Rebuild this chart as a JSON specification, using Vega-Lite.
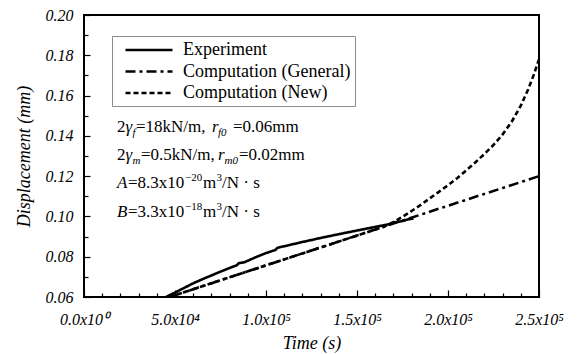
{
  "$schema": "https://vega.github.io/schema/vega-lite/v6.json",
  "width": 455,
  "height": 282,
  "autosize": {"type": "none"},
  "padding": {"left": 84, "top": 15, "right": 43, "bottom": 57},
  "background": "white",
  "config": {
    "view": {"stroke": "black", "strokeWidth": 2},
    "font": "Liberation Serif",
    "axis": {
      "grid": false,
      "domain": false,
      "tickColor": "black",
      "tickWidth": 1.2,
      "labelColor": "black",
      "titleColor": "black",
      "labelFont": "Liberation Serif",
      "titleFont": "Liberation Serif",
      "labelFontStyle": "italic",
      "titleFontStyle": "italic",
      "labelFontSize": 16,
      "titleFontSize": 18,
      "titleFontWeight": "normal",
      "labelFlush": false,
      "labelOverlap": false,
      "labelBound": false
    }
  },
  "datasets": {
    "curves": [
      {"series": "Experiment", "t": 45000, "d": 0.0600},
      {"series": "Experiment", "t": 50000, "d": 0.0622},
      {"series": "Experiment", "t": 55000, "d": 0.0645},
      {"series": "Experiment", "t": 60000, "d": 0.0668},
      {"series": "Experiment", "t": 65000, "d": 0.0688},
      {"series": "Experiment", "t": 70000, "d": 0.0707},
      {"series": "Experiment", "t": 75000, "d": 0.0726},
      {"series": "Experiment", "t": 80000, "d": 0.0744},
      {"series": "Experiment", "t": 84000, "d": 0.0758},
      {"series": "Experiment", "t": 85000, "d": 0.0768},
      {"series": "Experiment", "t": 88000, "d": 0.0772},
      {"series": "Experiment", "t": 95000, "d": 0.0800},
      {"series": "Experiment", "t": 100000, "d": 0.0818},
      {"series": "Experiment", "t": 105000, "d": 0.0833},
      {"series": "Experiment", "t": 106500, "d": 0.0845},
      {"series": "Experiment", "t": 110000, "d": 0.0852},
      {"series": "Experiment", "t": 120000, "d": 0.0873},
      {"series": "Experiment", "t": 130000, "d": 0.0893},
      {"series": "Experiment", "t": 140000, "d": 0.0912},
      {"series": "Experiment", "t": 150000, "d": 0.0930},
      {"series": "Experiment", "t": 160000, "d": 0.0948},
      {"series": "Experiment", "t": 168000, "d": 0.0962},
      {"series": "Experiment", "t": 170000, "d": 0.0970},
      {"series": "Experiment", "t": 175000, "d": 0.0977},
      {"series": "Experiment", "t": 178000, "d": 0.0985},
      {"series": "Experiment", "t": 181000, "d": 0.0990},
      {"series": "Computation (General)", "t": 47000, "d": 0.0600},
      {"series": "Computation (General)", "t": 100000, "d": 0.0757},
      {"series": "Computation (General)", "t": 150000, "d": 0.0905},
      {"series": "Computation (General)", "t": 165000, "d": 0.0950},
      {"series": "Computation (General)", "t": 200000, "d": 0.1053},
      {"series": "Computation (General)", "t": 250000, "d": 0.1200},
      {"series": "Computation (New)", "t": 47000, "d": 0.0600},
      {"series": "Computation (New)", "t": 100000, "d": 0.0757},
      {"series": "Computation (New)", "t": 150000, "d": 0.0905},
      {"series": "Computation (New)", "t": 165000, "d": 0.0950},
      {"series": "Computation (New)", "t": 170000, "d": 0.0972},
      {"series": "Computation (New)", "t": 175000, "d": 0.0998},
      {"series": "Computation (New)", "t": 180000, "d": 0.1027},
      {"series": "Computation (New)", "t": 185000, "d": 0.1057},
      {"series": "Computation (New)", "t": 190000, "d": 0.1090},
      {"series": "Computation (New)", "t": 195000, "d": 0.1122},
      {"series": "Computation (New)", "t": 200000, "d": 0.1155},
      {"series": "Computation (New)", "t": 205000, "d": 0.1190},
      {"series": "Computation (New)", "t": 210000, "d": 0.1228},
      {"series": "Computation (New)", "t": 215000, "d": 0.1268},
      {"series": "Computation (New)", "t": 220000, "d": 0.1310},
      {"series": "Computation (New)", "t": 225000, "d": 0.1355},
      {"series": "Computation (New)", "t": 230000, "d": 0.1407},
      {"series": "Computation (New)", "t": 235000, "d": 0.1470},
      {"series": "Computation (New)", "t": 240000, "d": 0.1550},
      {"series": "Computation (New)", "t": 244000, "d": 0.1630},
      {"series": "Computation (New)", "t": 247000, "d": 0.1700},
      {"series": "Computation (New)", "t": 250000, "d": 0.1780}
    ],
    "notes": [
      {"kind": "main", "txt": "2", "t": 18132, "d": 0.14191},
      {"kind": "mainItalic", "txt": "γ", "t": 22802, "d": 0.14191},
      {"kind": "smallItalic", "txt": "f", "t": 26648, "d": 0.13993},
      {"kind": "main", "txt": "=18kN/m,", "t": 28571, "d": 0.14191},
      {"kind": "mainItalic", "txt": "r", "t": 70330, "d": 0.14191},
      {"kind": "smallItalic", "txt": "f0", "t": 73626, "d": 0.13993},
      {"kind": "main", "txt": "=0.06mm", "t": 81868, "d": 0.14191},
      {"kind": "main", "txt": "2", "t": 18132, "d": 0.12801},
      {"kind": "mainItalic", "txt": "γ", "t": 22802, "d": 0.12801},
      {"kind": "smallItalic", "txt": "m", "t": 26648, "d": 0.12603},
      {"kind": "main", "txt": "=0.5kN/m,", "t": 31319, "d": 0.12801},
      {"kind": "mainItalic", "txt": "r", "t": 73626, "d": 0.12801},
      {"kind": "smallItalic", "txt": "m0", "t": 77198, "d": 0.12603},
      {"kind": "main", "txt": "=0.02mm", "t": 85165, "d": 0.12801},
      {"kind": "mainItalic", "txt": "A", "t": 18132, "d": 0.11411},
      {"kind": "main", "txt": "=8.3x10", "t": 24176, "d": 0.11411},
      {"kind": "small", "txt": "−20", "t": 55494, "d": 0.11759},
      {"kind": "main", "txt": "m", "t": 65385, "d": 0.11411},
      {"kind": "small", "txt": "3", "t": 72802, "d": 0.11759},
      {"kind": "main", "txt": "/N · s", "t": 75824, "d": 0.11411},
      {"kind": "mainItalic", "txt": "B", "t": 18132, "d": 0.09972},
      {"kind": "main", "txt": "=3.3x10", "t": 24176, "d": 0.09972},
      {"kind": "small", "txt": "−18", "t": 55494, "d": 0.10319},
      {"kind": "main", "txt": "m", "t": 65385, "d": 0.09972},
      {"kind": "small", "txt": "3", "t": 72802, "d": 0.10319},
      {"kind": "main", "txt": "/N · s", "t": 75824, "d": 0.09972}
    ]
  },
  "layer": [
    {
      "data": {"name": "curves"},
      "mark": {"type": "line", "strokeWidth": 2.6, "color": "black", "clip": true},
      "encoding": {
        "x": {
          "field": "t",
          "type": "quantitative",
          "scale": {"domain": [0, 250000], "nice": false, "zero": false},
          "axis": {
            "orient": "bottom",
            "values": [0, 50000, 100000, 150000, 200000, 250000],
            "labelExpr": "datum.value == 0 ? '0.0x10⁰' : datum.value < 100000 ? format(datum.value / 10000, '.1f') + 'x10⁴' : format(datum.value / 100000, '.1f') + 'x10⁵'",
            "tickSize": -7,
            "labelPadding": 21,
            "title": "Time (s)",
            "titlePadding": 7
          }
        },
        "y": {
          "field": "d",
          "type": "quantitative",
          "scale": {"domain": [0.06, 0.2], "nice": false, "zero": false},
          "axis": {
            "orient": "left",
            "values": [0.06, 0.08, 0.1, 0.12, 0.14, 0.16, 0.18, 0.2],
            "format": ".2f",
            "tickSize": -6,
            "labelPadding": 17,
            "title": "Displacement (mm)",
            "titlePadding": 12
          }
        },
        "strokeDash": {
          "field": "series",
          "type": "nominal",
          "scale": {
            "domain": ["Experiment", "Computation (General)", "Computation (New)"],
            "range": [[1, 0], [10, 4, 3, 4], [5, 3]]
          },
          "legend": {
            "title": null,
            "orient": "none",
            "legendX": 28,
            "legendY": 21,
            "strokeColor": "#8c8c8c",
            "fillColor": "white",
            "padding": 4,
            "symbolType": "M-2.765,0L2.765,0",
            "symbolSize": 289,
            "symbolOffset": 23,
            "symbolStrokeWidth": 2.5,
            "symbolStrokeColor": "black",
            "labelFont": "Liberation Serif",
            "labelFontSize": 18,
            "labelColor": "black",
            "labelLimit": 400,
            "labelOffset": 24,
            "rowPadding": 2.5
          }
        }
      }
    },
    {
      "data": {"name": "curves"},
      "mark": {"type": "point", "opacity": 0},
      "encoding": {
        "x": {
          "field": "t",
          "type": "quantitative",
          "axis": {
            "orient": "bottom",
            "values": [10000, 20000, 30000, 40000, 60000, 70000, 80000, 90000, 110000, 120000, 130000, 140000, 160000, 170000, 180000, 190000, 210000, 220000, 230000, 240000],
            "labels": false,
            "tickSize": -4,
            "title": null
          }
        },
        "y": {
          "field": "d",
          "type": "quantitative",
          "axis": {
            "orient": "left",
            "values": [0.07, 0.09, 0.11, 0.13, 0.15, 0.17, 0.19],
            "labels": false,
            "tickSize": -4,
            "title": null
          }
        }
      }
    },
    {
      "data": {"name": "notes"},
      "transform": [{"filter": "datum.kind == 'main'"}],
      "mark": {"type": "text", "align": "left", "baseline": "alphabetic", "font": "Liberation Serif", "fontSize": 17, "color": "black"},
      "encoding": {
        "x": {"field": "t", "type": "quantitative", "axis": null},
        "y": {"field": "d", "type": "quantitative", "axis": null},
        "text": {"field": "txt"}
      }
    },
    {
      "data": {"name": "notes"},
      "transform": [{"filter": "datum.kind == 'mainItalic'"}],
      "mark": {"type": "text", "align": "left", "baseline": "alphabetic", "font": "Liberation Serif", "fontStyle": "italic", "fontSize": 17, "color": "black"},
      "encoding": {
        "x": {"field": "t", "type": "quantitative", "axis": null},
        "y": {"field": "d", "type": "quantitative", "axis": null},
        "text": {"field": "txt"}
      }
    },
    {
      "data": {"name": "notes"},
      "transform": [{"filter": "datum.kind == 'small'"}],
      "mark": {"type": "text", "align": "left", "baseline": "alphabetic", "font": "Liberation Serif", "fontSize": 11, "color": "black"},
      "encoding": {
        "x": {"field": "t", "type": "quantitative", "axis": null},
        "y": {"field": "d", "type": "quantitative", "axis": null},
        "text": {"field": "txt"}
      }
    },
    {
      "data": {"name": "notes"},
      "transform": [{"filter": "datum.kind == 'smallItalic'"}],
      "mark": {"type": "text", "align": "left", "baseline": "alphabetic", "font": "Liberation Serif", "fontStyle": "italic", "fontSize": 11, "color": "black"},
      "encoding": {
        "x": {"field": "t", "type": "quantitative", "axis": null},
        "y": {"field": "d", "type": "quantitative", "axis": null},
        "text": {"field": "txt"}
      }
    }
  ],
  "resolve": {"axis": {"x": "independent", "y": "independent"}}
}
